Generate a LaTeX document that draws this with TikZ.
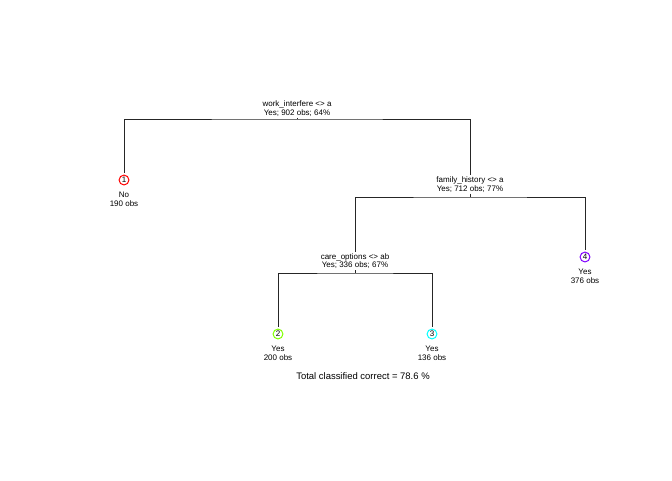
\documentclass[tikz,border=0pt]{standalone}
\usepackage{fontspec}
\setmainfont{Liberation Sans}
\usetikzlibrary{positioning}
\tikzset{split/.style={font=\fontsize{6pt}{6.4pt}\selectfont, align=center, inner sep=0.8pt},
leaf/.style={draw, circle, line width=0.75pt, minimum size=7.4pt, inner sep=0pt, font=\fontsize{6pt}{6.4pt}\selectfont},
edge/.style={line width=0.75pt, draw=black!85}
}

\begin{document}
\begin{tikzpicture}[x=0.75pt,y=-0.75pt]
\useasboundingbox (0,0) rectangle (672,480);
% split labels
\node[split] (wi) at (297,108.5) {work\_interfere <> a\\Yes; 902 obs; 64\%};
\node[split] (fh) at (470,184.5) {family\_history <> a\\Yes; 712 obs; 77\%};
\node[split] (co) at (355,261) {care\_options <> ab\\Yes; 336 obs; 67\%};

% leaves
\node[leaf, draw={rgb,255:red,255;green,0;blue,0}] (n1) at (124,180) {1};
\node[leaf, draw={rgb,255:red,128;green,255;blue,0}] (n2) at (278,334) {2};
\node[leaf, draw={rgb,255:red,0;green,255;blue,255}] (n3) at (432,334) {3};
\node[leaf, draw={rgb,255:red,128;green,0;blue,255}] (n4) at (585,257) {4};

\node[split, below=4.2pt of n1] (t1) {No\\190 obs};
\node[split, below=4.2pt of n2] (t2) {Yes\\200 obs};
\node[split, below=4.2pt of n3] (t3) {Yes\\136 obs};
\node[split, below=4.2pt of n4] (t4) {Yes\\376 obs};

\node[font=\fontsize{7.1pt}{8pt}\selectfont] (total) at (363,376) {Total classified correct = 78.6 \%};

\coordinate (wib) at (297,119);
\coordinate (fhb) at (470,197);
\coordinate (cob) at (355,273);

\draw[edge] ([yshift=1.5pt]n1.north) |- (wib) -| (fh.north);
\draw[edge] (co.north) |- (fhb) -| ([yshift=1.5pt]n4.north);
\draw[edge] ([yshift=1.5pt]n2.north) |- (cob) -| ([yshift=1.5pt]n3.north);
% little stubs under the labels
\draw[edge] (wi.south) -- (wib);
\draw[edge] (fh.south) -- (fhb);
\draw[edge] (co.south) -- (cob);
\end{tikzpicture}
\end{document}
